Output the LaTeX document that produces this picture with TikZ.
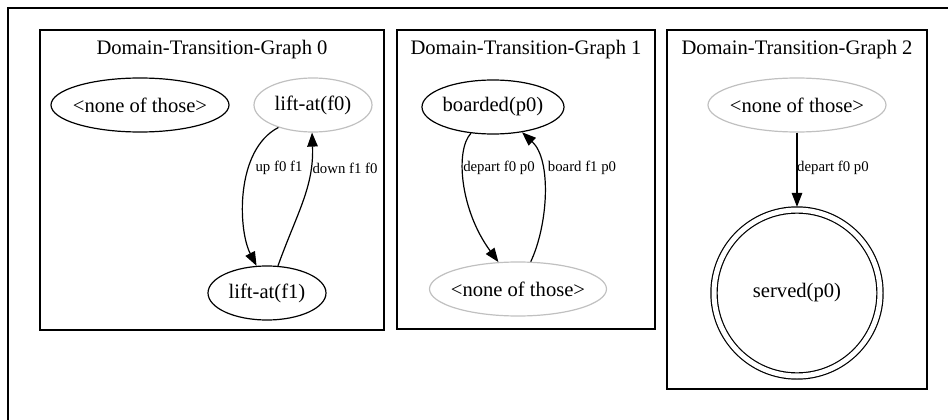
\documentclass[tikz,border=0pt]{standalone}
\usepackage{fontspec}
\setmainfont{Liberation Serif}
\usetikzlibrary{shapes.geometric,arrows.meta}

\definecolor{inactive}{RGB}{192,192,192}

\tikzset{
  frame/.style={draw=black, line width=1.3pt},
  title/.style={font=\fontsize{20.6}{24}\selectfont, inner sep=0pt},
  state/.style={ellipse, draw=black, line width=1.2pt, inner sep=0pt,
                minimum height=54pt, minimum width=#1,
                font=\fontsize{20.6}{24}\selectfont},
  graystate/.style={state=#1, draw=inactive},
  goal/.style={circle, draw=black, line width=1.2pt, double, double distance=5pt,
               inner sep=0pt, minimum size=166pt, outer sep=3.1pt,
               font=\fontsize{20.6}{24}\selectfont},
  trans/.style={draw=black, line width=1.2pt, -{Triangle[length=14pt, width=10.5pt]}},
  elabel/.style={font=\fontsize{14.8}{17}\selectfont, inner sep=0pt}
}

\newcommand{\ntext}[1]{\makebox[0pt]{#1}}

\begin{document}
\begin{tikzpicture}[x=1pt, y=-1pt]
  \useasboundingbox (0,0) rectangle (948,420);
  \clip (0,0) rectangle (948,420);

  % outer graph border
  \draw[line width=2pt] (8,8) rectangle (980,450);

  % ---- Domain-Transition-Graph 0 ----
  \draw[frame] (40,30) rectangle (384,330);
  \node[title] (t0) at (212,50) {Domain-Transition-Graph 0};
  \node[state=178pt] (n0) at (140,105) {\ntext{<none of those>}};
  \node[graystate=118pt] (lf0) at (313,105) {\ntext{lift-at(f0)}};
  \node[state=118pt] (lf1) at (267,293) {\ntext{lift-at(f1)}};
  \draw[trans] (lf0.213) .. controls (235,150) and (238,230) .. (lf1.111);
  \draw[trans] (lf1.68) .. controls (297,213) and (314,187) .. (lf0.268);
  \node[elabel] (l0a) at (279,168) {up f0 f1};
  \node[elabel] (l0b) at (345,168) {down f1 f0};

  % ---- Domain-Transition-Graph 1 ----
  \draw[frame] (397,30) rectangle (655,329);
  \node[title] (t1) at (526,50) {Domain-Transition-Graph 1};
  \node[state=142pt] (bp) at (493,107) {\ntext{boarded(p0)}};
  \node[graystate=177pt] (n1) at (518,289) {\ntext{<none of those>}};
  \draw[trans] (bp.230) .. controls (455,150) and (460,210) .. (n1.126);
  \draw[trans] (n1.65) .. controls (548,225) and (552,160) .. (bp.319);
  \node[elabel] (l1a) at (499,168) {depart f0 p0};
  \node[elabel] (l1b) at (582,168) {board f1 p0};

  % ---- Domain-Transition-Graph 2 ----
  \draw[frame] (667,30) rectangle (927,389);
  \node[title] (t2) at (797,50) {Domain-Transition-Graph 2};
  \node[graystate=178pt] (n2) at (797,105) {\ntext{<none of those>}};
  \node[goal] (sp) at (797,293) {served(p0)};
  \draw[trans] (n2) -- (sp);
  \node[elabel, anchor=west] (l2) at (797,168) {depart f0 p0};
\end{tikzpicture}
\end{document}
